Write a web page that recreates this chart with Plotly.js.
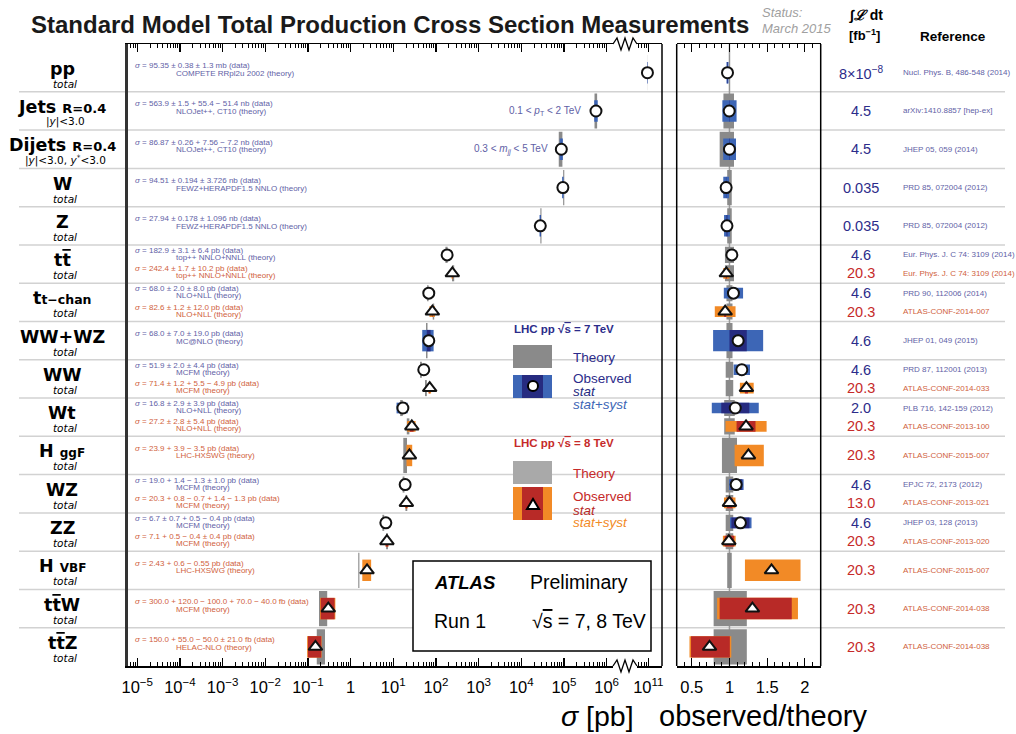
<!DOCTYPE html>
<html><head><meta charset="utf-8">
<script src="https://cdn.plot.ly/plotly-3.0.1.min.js"></script>
<style>body{margin:0;padding:0;background:#fff}#chart{width:1016px;height:734px}</style>
</head><body><div id="chart"></div>
<script>
const W = 1016, H = 734;
const SANS = '"Liberation Sans", Arial, Helvetica, sans-serif';
const DJ = '"DejaVu Sans", sans-serif';

// ---------- rows ----------
const rowLabels = ['pp', 'Jets <span style="font-size:13px">R=0.4</span>', 'Dijets <span style="font-size:13px">R=0.4</span>',
  'W', 'Z', 't<span style="text-decoration:overline">t</span>', 't<span style="font-size:12.5px">t−chan</span>', 'WW+WZ', 'WW', 'Wt',
  'H <span style="font-size:12px">ggF</span>', 'WZ', 'ZZ', 'H <span style="font-size:12px">VBF</span>', 't<span style="text-decoration:overline">t</span>W',
  't<span style="text-decoration:overline">t</span>Z'];
const rowSub = ['<i>total</i>', '|<i>y</i>|&lt;3.0', '|<i>y</i>|&lt;3.0, <i>y</i><sup>*</sup>&lt;3.0', '<i>total</i>', '<i>total</i>',
  '<i>total</i>', '<i>total</i>', '<i>total</i>', '<i>total</i>', '<i>total</i>', '<i>total</i>', '<i>total</i>',
  '<i>total</i>', '<i>total</i>', '<i>total</i>', '<i>total</i>'];

// ---------- measurements (cross sections in pb) ----------
const entryRow    = [0, 1, 2, 3, 4, 5, 5, 6, 6, 7, 8, 8, 9, 9, 10, 11, 11, 12, 12, 13, 14, 15];
const entryEnergy = [7, 7, 7, 7, 7, 7, 8, 7, 8, 7, 7, 8, 7, 8, 8, 7, 8, 7, 8, 8, 8, 8];
const sigma  = [95.35e9, 563.9e3, 86.87e3, 94.51e3, 27.94e3, 182.9, 242.4, 68.0, 82.6, 68.0, 51.9, 71.4, 16.8, 27.2, 23.9, 19.0, 20.3, 6.7, 7.1, 2.43, 0.300, 0.150];
const statUp = [0.38e9, 1.5e3, 0.26e3, 0.194e3, 0.178e3, 3.1, 1.7, 2.0, 1.2, 7.0, 2.0, 1.2, 2.9, 2.8, null, 1.4, 0.8, 0.7, 0.5, null, 0.120, 0.055];
const statDn = [0.38e9, 1.5e3, 0.26e3, 0.194e3, 0.178e3, 3.1, 1.7, 2.0, 1.2, 7.0, 2.0, 1.2, 2.9, 2.8, null, 1.3, 0.7, 0.7, 0.4, null, 0.100, 0.050];
const systUp = [1.3e9, 55.4e3, 7.56e3, 3.726e3, 1.096e3, 6.4, 10.2, 8.0, 12.0, 19.0, 4.4, 5.5, 3.9, 5.4, 3.9, 1.0, 1.4, 0.5, 0.4, 0.6, 0.070, 0.021];
const systDn = [1.3e9, 51.4e3, 7.2e3, 3.726e3, 1.096e3, 6.4, 10.2, 8.0, 12.0, 19.0, 4.4, 4.9, 3.9, 5.4, 3.5, 1.0, 1.3, 0.4, 0.4, 0.55, 0.040, 0.021];
const theory = [97.9e9, 566e3, 86.9e3, 98.9e3, 28.9e3, 177.3, 252.9, 64.6, 87.6, 61.0, 44.6, 58.3, 15.6, 22.3, 19.1, 17.45, 20.3, 5.85, 7.16, 1.56, 0.230, 0.204];
const thUp   = [0.003, 0.06, 0.06, 0.03, 0.03, 0.06, 0.06, 0.04, 0.04, 0.04, 0.05, 0.05, 0.07, 0.07, 0.10, 0.05, 0.05, 0.05, 0.05, 0.03, 0.23, 0.23];
const thDn   = [0.003, 0.08, 0.13, 0.03, 0.03, 0.06, 0.06, 0.04, 0.04, 0.04, 0.05, 0.05, 0.07, 0.07, 0.10, 0.05, 0.05, 0.05, 0.05, 0.03, 0.21, 0.21];

const dataText = ['= 95.35 ± 0.38 ± 1.3 mb (data)', '= 563.9 ± 1.5 + 55.4 − 51.4 nb (data)', '= 86.87 ± 0.26 + 7.56 − 7.2 nb (data)',
  '= 94.51 ± 0.194 ± 3.726 nb (data)', '= 27.94 ± 0.178 ± 1.096 nb (data)', '= 182.9 ± 3.1 ± 6.4 pb (data)', '= 242.4 ± 1.7 ± 10.2 pb (data)',
  '= 68.0 ± 2.0 ± 8.0 pb (data)', '= 82.6 ± 1.2 ± 12.0 pb (data)', '= 68.0 ± 7.0 ± 19.0 pb (data)', '= 51.9 ± 2.0 ± 4.4 pb (data)',
  '= 71.4 ± 1.2 + 5.5 − 4.9 pb (data)', '= 16.8 ± 2.9 ± 3.9 pb (data)', '= 27.2 ± 2.8 ± 5.4 pb (data)', '= 23.9 + 3.9 − 3.5 pb (data)',
  '= 19.0 + 1.4 − 1.3 ± 1.0 pb (data)', '= 20.3 + 0.8 − 0.7 + 1.4 − 1.3 pb (data)', '= 6.7 ± 0.7 + 0.5 − 0.4 pb (data)',
  '= 7.1 + 0.5 − 0.4 ± 0.4 pb (data)', '= 2.43 + 0.6 − 0.55 pb (data)', '= 300.0 + 120.0 − 100.0 + 70.0 − 40.0 fb (data)',
  '= 150.0 + 55.0 − 50.0 ± 21.0 fb (data)'];
const theoryText = ['COMPETE RRpl2u 2002 (theory)', 'NLOJet++, CT10 (theory)', 'NLOJet++, CT10 (theory)', 'FEWZ+HERAPDF1.5 NNLO (theory)',
  'FEWZ+HERAPDF1.5 NNLO (theory)', 'top++ NNLO+NNLL (theory)', 'top++ NNLO+NNLL (theory)', 'NLO+NLL (theory)', 'NLO+NLL (theory)',
  'MC@NLO (theory)', 'MCFM (theory)', 'MCFM (theory)', 'NLO+NLL (theory)', 'NLO+NLL (theory)', 'LHC-HXSWG (theory)', 'MCFM (theory)',
  'MCFM (theory)', 'MCFM (theory)', 'MCFM (theory)', 'LHC-HXSWG (theory)', 'MCFM (theory)', 'HELAC-NLO (theory)'];
const lumiText = ['8×10<sup>−8</sup>', '4.5', '4.5', '0.035', '0.035', '4.6', '20.3', '4.6', '20.3', '4.6', '4.6', '20.3', '2.0', '20.3',
  '20.3', '4.6', '13.0', '4.6', '20.3', '20.3', '20.3', '20.3'];
const refText = ['Nucl. Phys. B, 486-548 (2014)', 'arXiv:1410.8857 [hep-ex]', 'JHEP 05, 059 (2014)', 'PRD 85, 072004 (2012)',
  'PRD 85, 072004 (2012)', 'Eur. Phys. J. C 74: 3109 (2014)', 'Eur. Phys. J. C 74: 3109 (2014)', 'PRD 90, 112006 (2014)',
  'ATLAS-CONF-2014-007', 'JHEP 01, 049 (2015)', 'PRD 87, 112001 (2013)', 'ATLAS-CONF-2014-033', 'PLB 716, 142-159 (2012)',
  'ATLAS-CONF-2013-100', 'ATLAS-CONF-2015-007', 'EPJC 72, 2173 (2012)', 'ATLAS-CONF-2013-021', 'JHEP 03, 128 (2013)',
  'ATLAS-CONF-2013-020', 'ATLAS-CONF-2015-007', 'ATLAS-CONF-2014-038', 'ATLAS-CONF-2014-038'];

// ---------- axis tick labels ----------
const mainTickVals = [1e-5, 1e-4, 1e-3, 1e-2, 1e-1, 1, 1e1, 1e2, 1e3, 1e4, 1e5, 1e6];
const mainTickText = ['10<sup>−5</sup>', '10<sup>−4</sup>', '10<sup>−3</sup>', '10<sup>−2</sup>', '10<sup>−1</sup>', '1',
  '10<sup>1</sup>', '10<sup>2</sup>', '10<sup>3</sup>', '10<sup>4</sup>', '10<sup>5</sup>', '10<sup>6</sup>'];
const topTickVals = [1e11], topTickText = ['10<sup>11</sup>'];
const ratioTickVals = [0.5, 1, 1.5, 2], ratioTickText = ['0.5', '1', '1.5', '2'];

// ---------- colours ----------
const C = {
  syst7: '#3d66b6', stat7: '#262b80', syst8: '#f28a26', stat8: '#b82a27', th: '#8a8a8a', th8leg: '#a9a9a9',
  txt7: '#6161a6', txt8: '#d0613d', num7: '#2c2c8a', num8: '#c62a2a'
};

// ---------- derived geometry ----------
const nE = sigma.length;
const cnt = {}; entryRow.forEach(r => cnt[r] = (cnt[r] || 0) + 1);
const dbl = entryRow.map(r => cnt[r] > 1);
const yPos = entryRow.map((r, i) => dbl[i] ? r + (entryEnergy[i] === 7 ? -0.24 : 0.24) : r);
const totUp = sigma.map((s, i) => Math.hypot(statUp[i] || 0, systUp[i]));
const totDn = sigma.map((s, i) => Math.hypot(statDn[i] || 0, systDn[i]));
const ratio = sigma.map((s, i) => s / theory[i]);
const thH = i => dbl[i] ? 0.42 : 0.92;
const dH = i => dbl[i] ? 0.28 : 0.56;
const is7 = i => entryEnergy[i] === 7;

const traces = [];
function idx(f) { const a = []; for (let i = 0; i < nE; i++) if (f(i)) a.push(i); return a; }
function bars(ids, xa, lo, hi, h, col) {
  if (!ids.length) return;
  traces.push({ type: 'bar', orientation: 'h', xaxis: xa, yaxis: 'y', y: ids.map(i => yPos[i]),
    base: ids.map(lo), x: ids.map(i => hi(i) - lo(i)), width: ids.map(h),
    marker: { color: ids.map(col), line: { width: 0 } }, hoverinfo: 'skip', showlegend: false });
}
const groups = [['x', i => sigma[i] < 1e8], ['x3', i => sigma[i] >= 1e8]];
groups.forEach(([xa, f]) => bars(idx(f), xa, i => theory[i] * (1 - thDn[i]), i => theory[i] * (1 + thUp[i]), thH, () => C.th));
bars(idx(() => true), 'x2', i => 1 - thDn[i], i => 1 + thUp[i], thH, () => C.th);
groups.forEach(([xa, f]) => bars(idx(f), xa, i => sigma[i] - totDn[i], i => sigma[i] + totUp[i], dH, i => is7(i) ? C.syst7 : C.syst8));
bars(idx(() => true), 'x2', i => ratio[i] * (1 - totDn[i] / sigma[i]), i => ratio[i] * (1 + totUp[i] / sigma[i]), dH, i => is7(i) ? C.syst7 : C.syst8);
groups.forEach(([xa, f]) => bars(idx(i => f(i) && statUp[i] !== null), xa, i => sigma[i] - statDn[i], i => sigma[i] + statUp[i], dH, i => is7(i) ? C.stat7 : C.stat8));
bars(idx(i => statUp[i] !== null), 'x2', i => ratio[i] * (1 - statDn[i] / sigma[i]), i => ratio[i] * (1 + statUp[i] / sigma[i]), dH, i => is7(i) ? C.stat7 : C.stat8);
function markers(ids, xa, xv) {
  traces.push({ type: 'scatter', mode: 'markers', xaxis: xa, yaxis: 'y', x: ids.map(xv), y: ids.map(i => yPos[i]),
    marker: { symbol: ids.map(i => is7(i) ? 'circle' : 'triangle-up'), size: ids.map(i => is7(i) ? 11 : 12),
      color: '#ffffff', opacity: 1, line: { color: '#111', width: 2 } }, hoverinfo: 'skip', showlegend: false, cliponaxis: false });
}
groups.forEach(([xa, f]) => markers(idx(f), xa, i => sigma[i]));
markers(idx(() => true), 'x2', i => ratio[i]);

// ---------- helpers ----------
const px = v => v / W, py = v => 1 - v / H;
const annotations = [];
function ann(text, x, y, o) {
  o = o || {};
  annotations.push({ text, xref: 'paper', x: px(x), yref: o.yref || 'paper', y: o.yref ? y : py(y),
    yshift: o.yshift || 0, xanchor: o.xanchor || 'left', yanchor: 'middle', showarrow: false,
    font: { family: o.family || SANS, size: o.size || 12, color: o.color || '#000' } });
}
const shapes = [];
function rect(x0, y0, x1, y1, fill, line, layer) {
  shapes.push({ type: 'rect', xref: 'paper', yref: 'paper', x0: px(x0), x1: px(x1), y0: py(y1), y1: py(y0),
    fillcolor: fill, line: line || { width: 0 }, layer: layer || 'above' });
}
function lineP(x0, y0, x1, y1, color, width, layer) {
  shapes.push({ type: 'line', xref: 'paper', yref: 'paper', x0: px(x0), x1: px(x1), y0: py(y0), y1: py(y1),
    line: { color, width }, layer: layer || 'above' });
}

for (let r = 0; r < rowLabels.length - 1; r++) {
  shapes.push({ type: 'line', xref: 'paper', x0: px(19), x1: px(1005), yref: 'y', y0: r + 0.5, y1: r + 0.5,
    line: { color: '#d2d2d2', width: 1.5 }, layer: 'below' });
}
shapes.push({ type: 'line', xref: 'x2', x0: 1, x1: 1, yref: 'paper', y0: py(666), y1: py(44), line: { color: '#9a9a9a', width: 1.5 }, layer: 'below' });
lineP(662, 44, 662, 666, '#000', 1.5);
lineP(676.7, 44, 676.7, 666, '#000', 1.5);
lineP(820.7, 44, 820.7, 666, '#000', 1.5);
function zig(y0, s) {
  const pts = [[613, y0], [617, y0 - 6 * s], [621, y0 + 6 * s], [625, y0 - 6 * s], [629, y0 + 6 * s], [633, y0 - 6 * s], [637, y0]];
  shapes.push({ type: 'path', xref: 'paper', yref: 'paper', path: 'M' + pts.map(p => px(p[0]) + ',' + py(p[1])).join(' L'),
    line: { color: '#000', width: 1.3 } });
}
zig(44, 1); zig(666, 1);

rect(413, 561, 651, 651, '#fff', { color: '#000', width: 1.5 });
ann('<b><i>ATLAS</i></b>', 432, 582, { size: 18.5 });
ann('Preliminary', 528, 582, { size: 19.5 });
ann('Run 1', 432, 621, { size: 19.5 });
ann('√<span style="text-decoration:overline">s</span> = 7, 8 TeV', 530, 621, { size: 19.5 });

ann('<b>LHC pp √<span style="text-decoration:overline">s</span> = 7 TeV</b>', 512, 329, { size: 11.5, color: C.num7 });
rect(513, 345, 552, 368, C.th);
ann('Theory', 571, 357, { size: 13.5, color: C.num7 });
rect(513, 375, 552, 398, C.syst7);
rect(522, 375, 543, 398, C.stat7);
shapes.push({ type: 'circle', xref: 'paper', yref: 'paper', x0: px(528), x1: px(538), y0: py(391), y1: py(381), fillcolor: '#fff', line: { color: '#000', width: 2 } });
ann('Observed', 571, 378, { size: 13.5, color: C.num7 });
ann('<i>stat</i>', 571, 391, { size: 13.5, color: C.stat7 });
ann('<i>stat+syst</i>', 571, 404, { size: 13.5, color: C.syst7 });

ann('<b>LHC pp √<span style="text-decoration:overline">s</span> = 8 TeV</b>', 512, 443, { size: 11.5, color: C.num8 });
rect(513, 461, 552, 484, C.th8leg);
ann('Theory', 571, 473, { size: 13.5, color: C.num8 });
rect(513, 487, 552, 520, C.syst8);
rect(522, 487, 543, 520, C.stat8);
shapes.push({ type: 'path', xref: 'paper', yref: 'paper', path: 'M' + px(527) + ',' + py(509) + ' L' + px(539) + ',' + py(509) + ' L' + px(533) + ',' + py(499) + ' Z', fillcolor: '#fff', line: { color: '#000', width: 2 } });
ann('Observed', 571, 497, { size: 13.5, color: C.num8 });
ann('<i>stat</i>', 571, 510, { size: 13.5, color: C.stat8 });
ann('<i>stat+syst</i>', 571, 522, { size: 13.5, color: C.syst8 });

rowLabels.forEach((t, r) => {
  ann('<b>' + t + '</b>', 62, r, { yref: 'y', yshift: 4, xanchor: 'center', size: 17.5, family: DJ });
  ann(rowSub[r], 65, r, { yref: 'y', yshift: -11, xanchor: 'center', size: 10.5, family: DJ });
});
for (let i = 0; i < nE; i++) {
  const c = is7(i) ? C.txt7 : C.txt8;
  const s1 = dbl[i] ? 4.5 : 7, s2 = dbl[i] ? -2.5 : -0.5;
  ann('<i>σ</i> ' + dataText[i], 133, yPos[i], { yref: 'y', yshift: s1, size: 8, color: c });
  ann(theoryText[i], 174, yPos[i], { yref: 'y', yshift: s2, size: 8, color: c });
  ann(lumiText[i], 861, yPos[i], { yref: 'y', xanchor: 'center', size: 14.5, color: is7(i) ? C.num7 : C.num8 });
  ann(refText[i], 901, yPos[i], { yref: 'y', size: 8, color: is7(i) ? C.txt7 : C.txt8 });
}
ann('0.1 &lt; <i>p</i><sub>T</sub> &lt; 2 TeV', 583, 1, { yref: 'y', xanchor: 'right', size: 10, color: C.txt7 });
ann('0.3 &lt; <i>m<sub>jj</sub></i> &lt; 5 TeV', 550, 2, { yref: 'y', xanchor: 'right', size: 10, color: C.txt7 });

ann('<b>Standard Model Total Production Cross Section Measurements</b>', 29, 24, { size: 24, color: '#1a1a1a' });
ann('<i>Status:</i>', 760, 12, { size: 13, color: '#a0a0a0' });
ann('<i>March 2015</i>', 760, 28, { size: 13, color: '#a0a0a0' });
ann('<b>∫<i>ℒ</i> dt</b>', 847, 15, { size: 14 });
ann('<b>[fb<sup>−1</sup>]</b>', 847, 35, { size: 13 });
ann('<b>Reference</b>', 918, 36, { size: 13.5 });
ann('<i>σ</i> [pb]', 597, 716, { xanchor: 'center', size: 28.5 });
ann('observed/theory', 763, 716, { xanchor: 'center', size: 29 });

const minorMain = [], minorTop = [6e10, 7e10, 8e10, 9e10, 2e11], minorRatio = [];
for (let k = -6; k <= 6; k++) for (let m = 2; m <= 9; m++) minorMain.push(m * Math.pow(10, k));
for (let k = 3; k <= 22; k++) minorRatio.push(k / 10);

const axCommon = { ticks: 'inside', ticklen: 8, tickwidth: 1.2, tickcolor: '#000', showline: true, linecolor: '#000', linewidth: 1.5,
  mirror: 'ticks', showgrid: false, zeroline: false, anchor: 'y', tickmode: 'array', fixedrange: true,
  tickfont: { family: SANS, size: 16.5, color: '#000' }, ticklabelstandoff: 6 };
const minorCommon = { tickmode: 'array', ticks: 'inside', ticklen: 4, tickwidth: 1, tickcolor: '#000', showgrid: false };

const layout = {
  width: W, height: H, margin: { l: 0, r: 0, t: 0, b: 0, pad: 0 }, paper_bgcolor: '#fff', plot_bgcolor: 'rgba(0,0,0,0)',
  barmode: 'overlay', hovermode: false, showlegend: false, font: { family: SANS, color: '#000' },
  xaxis: Object.assign({}, axCommon, { type: 'log', domain: [px(128.3), px(613)], range: [-5.21, 6.15],
    tickvals: mainTickVals, ticktext: mainTickText, minor: Object.assign({}, minorCommon, { tickvals: minorMain }) }),
  xaxis3: Object.assign({}, axCommon, { type: 'log', domain: [px(637), px(662)], range: [10.735, 11.32],
    tickvals: topTickVals, ticktext: topTickText, minor: Object.assign({}, minorCommon, { tickvals: minorTop }) }),
  xaxis2: Object.assign({}, axCommon, { type: 'linear', domain: [px(676.7), px(820.7)], range: [0.3, 2.21],
    tickvals: ratioTickVals, ticktext: ratioTickText, minor: Object.assign({}, minorCommon, { tickvals: minorRatio }) }),
  yaxis: { domain: [py(666), py(44)], range: [15.5, -0.75], showticklabels: false, ticks: '', showgrid: false, zeroline: false,
    showline: true, linecolor: '#333', linewidth: 3, anchor: 'x', fixedrange: true },
  shapes, annotations
};
Plotly.newPlot('chart', traces, layout, { staticPlot: true, displayModeBar: false });
</script>
</body></html>
